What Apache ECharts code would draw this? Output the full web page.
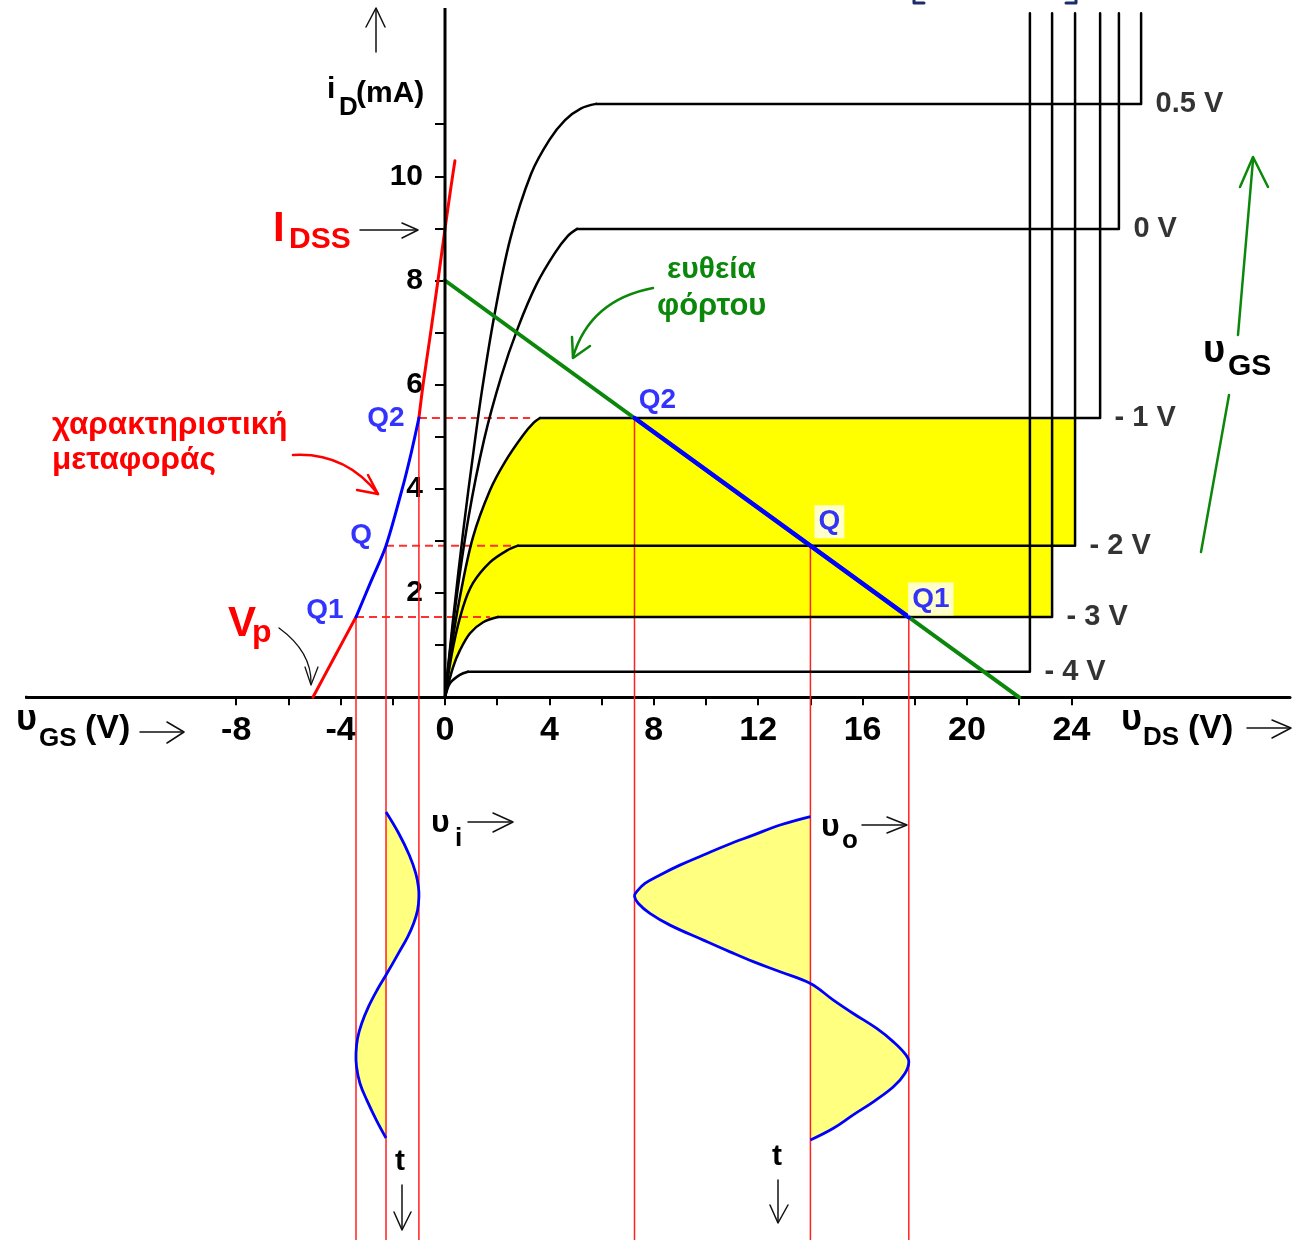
<!DOCTYPE html>
<html>
<head>
<meta charset="utf-8">
<title>JFET – χαρακτηριστικές και ευθεία φόρτου</title>
<script src="https://cdn.jsdelivr.net/npm/echarts@6/dist/echarts.min.js"></script>
<style>
  html, body { margin: 0; padding: 0; background: #ffffff; }
  #chart { width: 1293px; height: 1240px; }
</style>
</head>
<body>
<div id="chart"></div>
<script>
// ---- output characteristics iD(uDS), one curve per gate voltage ----
const gateLabels = ['0.5 V', '0 V', '- 1 V', '- 2 V', '- 3 V', '- 4 V'];
const riseGs05 = [[0,0],[0.3,1.45],[0.7,3.2],[1.1,4.75],[1.42,5.9],[1.88,7.3],[2.5,8.8],[3.3,10.05],[4.0,10.7],[4.6,11.08],[5.2,11.3],[5.79,11.39]];
const riseGs0  = [[0,0],[0.4,1.75],[0.9,3.45],[1.5,4.95],[2.15,6.15],[2.8,7.1],[3.5,7.92],[4.2,8.52],[4.7,8.85],[5.06,8.99]];
const riseGsM1 = [[0,0],[0.19,0.77],[0.57,1.92],[1.07,3.07],[1.72,3.97],[2.3,4.52],[2.99,5.03],[3.4,5.27],[3.64,5.36]];
const riseGsM2 = [[0,0],[0.31,0.96],[0.69,1.73],[1.07,2.19],[1.72,2.59],[2.38,2.82],[2.8,2.91]];
const riseGsM3 = [[0,0],[0.31,0.58],[0.57,0.90],[0.96,1.23],[1.46,1.44],[2.03,1.54]];
const riseGsM4 = [[0,0],[0.19,0.27],[0.57,0.43],[0.88,0.49]];
const saturation   = [11.39, 8.99, 5.36, 2.91, 1.54, 0.49];   // mA
const breakdownUds = [26.67, 25.82, 25.10, 24.14, 23.26, 22.41]; // V
const breakdownTop = 13.13;                                    // mA

// ---- transfer characteristic iD(uGS) ----
const transferCurve = [[-5.06,0],[-4.25,0.76],[-3.41,1.54],[-2.84,2.22],[-2.26,2.91],[-1.65,3.98],[-1.3,4.68],[-1.0,5.36],[-0.84,6.0],[-0.55,7.0],[-0.27,8.0],[0,8.99],[0.2,9.7],[0.38,10.3]];

// ---- load line and operating points ----
const loadLine  = [[0, 8], [22, 0]];
const qNames    = ['Q1', 'Q', 'Q2'];
const qUgs      = [-3.41, -2.26, -1.0];
const qId       = [1.54, 2.91, 5.36];
const qUds      = [17.77, 14.0, 7.26];
const dashEndUds = [1.72, 2.6, 3.26];

// ---- input / output signals (time in periods, downward) ----
const uiTime = [0,0.066,0.132,0.188,0.229,0.260,0.301,0.341,0.383,0.433,0.5,0.546,0.597,0.648,0.694,0.740,0.781,0.832,0.883,0.945,1.0];
const uiVolt = [-2.26,-1.77,-1.37,-1.12,-1.02,-1.0,-1.05,-1.20,-1.43,-1.78,-2.26,-2.60,-2.93,-3.19,-3.35,-3.41,-3.39,-3.26,-3.0,-2.63,-2.26];
const uoTime = [0.014,0.040,0.071,0.102,0.132,0.163,0.193,0.219,0.245,0.258,0.280,0.311,0.347,0.393,0.429,0.459,0.490,0.526,0.577,0.618,0.664,0.705,0.741,0.766,0.802,0.843,0.889,0.929,0.970,1.006];
const uoVolt = [14.0,12.84,11.81,10.79,9.90,9.00,8.24,7.66,7.34,7.26,7.40,7.85,8.62,9.90,10.92,11.81,12.84,14.0,14.88,15.64,16.54,17.18,17.62,17.77,17.62,17.18,16.41,15.64,14.88,14.0];

// ---- axis ticks ----
const udsLabelRange = [-8, 24];
const udsTicks  = [-8, -6, -4, -2, 0, 2, 4, 6, 8, 10, 12, 14, 16, 18, 20, 22, 24];
const idLabelRange = [2, 10];
const idTicks   = [1, 2, 3, 4, 5, 6, 7, 8, 9, 10, 11];
const idAxisTop = 13.23;

const riseCurves = [riseGs05, riseGs0, riseGsM1, riseGsM2, riseGsM3, riseGsM4];

const FONT = '"Liberation Sans", Arial, sans-serif';
const RED = '#ff0000', BLUE = '#0000ff', GREEN = '#0b880b', BLACK = '#000000';

// axis extents; the grid is sized so both axes cross at the origin
const X_MIN = -16, X_MAX = 32.375, X_LINE_START = -16.398;
const Y_MIN = -10, Y_MAX = 13, Y_BOTTOM = -10.42;
const T_MIN = -2.4294, T_MAX = 1.2463;
const GRID = { left: 27.4, right: 3, top: 20, bottom: 21.7 };
const PX_PER_V = 26.1, PX_PER_MA = 52.1;
// shift each axis from the grid edge to the other axis' zero
const X_AXIS_OFFSET = -(-Y_MIN * PX_PER_MA);   // bottom edge -> iD = 0
const Y_AXIS_OFFSET = -(-X_MIN * PX_PER_V);    // left edge   -> uDS = 0

function lineSeries(data, color, width, extra) {
  return Object.assign({
    type: 'line', data: data, xAxisIndex: 0, yAxisIndex: 0,
    symbol: 'none', silent: true, animation: false, clip: false, z: 4,
    lineStyle: { color: color, width: width, cap: 'round', join: 'round' }
  }, extra || {});
}

const series = [];

// yellow working region between the -1 V and -3 V characteristics
const region = [].concat(
  riseGsM3,
  [[breakdownUds[4], saturation[4]], [breakdownUds[4], saturation[3]],
   [breakdownUds[3], saturation[3]], [breakdownUds[3], saturation[2]]],
  riseGsM1.slice().reverse()
);
series.push({
  type: 'custom', xAxisIndex: 0, yAxisIndex: 0, data: [[0, 0]], silent: true, animation: false, z: 1,
  renderItem: function (p, api) {
    return { type: 'polygon', shape: { points: region.map(function (pt) { return api.coord(pt); }) },
             style: { fill: '#ffff00' } };
  }
});

// signal waveforms: yellow lobes, then the blue trace
function lobeIndex(volts) {
  for (let i = 1; i < volts.length - 1; i++) if (volts[i] === volts[0]) return i;
  return Math.floor(volts.length / 2);
}
function waveFill(times, volts) {
  const mid = lobeIndex(volts);
  return {
    type: 'custom', xAxisIndex: 0, yAxisIndex: 1, data: [[0, 0]], silent: true, animation: false, z: 2,
    renderItem: function (p, api) {
      const pts = times.map(function (t, i) { return api.coord([volts[i], t]); });
      const lobes = [pts.slice(0, mid + 1), pts.slice(mid)];
      return { type: 'group', children: lobes.map(function (lb) {
        return { type: 'polygon', shape: { points: lb, smooth: 0.4, smoothConstraint: [lb[0], lb[0]] },
                 style: { fill: '#ffff80' } };
      }) };
    }
  };
}
function waveLine(times, volts) {
  return {
    type: 'custom', xAxisIndex: 0, yAxisIndex: 1, data: [[0, 0]], silent: true, animation: false, z: 6,
    renderItem: function (p, api) {
      const pts = times.map(function (t, i) { return api.coord([volts[i], t]); });
      return { type: 'polyline', shape: { points: pts, smooth: 0.4 },
               style: { stroke: BLUE, lineWidth: 2.8, fill: null, lineJoin: 'round' } };
    }
  };
}
series.push(waveFill(uiTime, uiVolt), waveFill(uoTime, uoVolt));

// projection lines from the operating points
qNames.forEach(function (n, i) {
  series.push(lineSeries([[qUgs[i], qId[i]], [dashEndUds[i], qId[i]]], '#ff3030', 2,
    { z: 3, lineStyle: { color: '#ff3030', width: 2, type: [8, 5] } }));
  series.push(lineSeries([[qUgs[i], qId[i]], [qUgs[i], Y_BOTTOM]], '#ff2020', 1.5, { z: 3 }));
  series.push(lineSeries([[qUds[i], qId[i]], [qUds[i], Y_BOTTOM]], '#ff2020', 1.5, { z: 3 }));
});

// output characteristics
riseCurves.forEach(function (rise, i) {
  const knee = rise[rise.length - 1];
  series.push(lineSeries(rise, BLACK, 2.5, { smooth: 0.35 }));
  series.push(lineSeries([knee, [breakdownUds[i], saturation[i]], [breakdownUds[i], breakdownTop]], BLACK, 2.5));
});

// transfer characteristic: red outside Q1..Q2, blue between
const iQ1 = transferCurve.findIndex(function (p) { return p[0] === qUgs[0]; });
const iQ2 = transferCurve.findIndex(function (p) { return p[0] === qUgs[2]; });
series.push(lineSeries(transferCurve.slice(0, iQ1 + 1), RED, 3, { smooth: 0.3 }));
series.push(lineSeries(transferCurve.slice(iQ2), RED, 3, { smooth: 0.3 }));
series.push(lineSeries(transferCurve.slice(iQ1, iQ2 + 1), BLUE, 3, { smooth: 0.3, z: 5 }));

// load line and its swing between Q2 and Q1
series.push(lineSeries(loadLine, GREEN, 4));
series.push(lineSeries([[qUds[2], qId[2]], [qUds[0], qId[0]]], BLUE, 4.5, { z: 5 }));

// axis lines: iD (positive part only) and the left stub of the voltage axis
series.push(lineSeries([[0, 0], [0, idAxisTop]], BLACK, 3, { z: 6, lineStyle: { color: BLACK, width: 3 } }));
series.push(lineSeries([[X_LINE_START, 0], [X_MIN, 0]], BLACK, 3, { z: 6, lineStyle: { color: BLACK, width: 3 } }));

series.push(waveLine(uiTime, uiVolt), waveLine(uoTime, uoVolt));

// gate voltage labels at the end of each characteristic
series.push({
  type: 'scatter', xAxisIndex: 0, yAxisIndex: 0, silent: true, animation: false, z: 7,
  symbolSize: 1, itemStyle: { color: 'rgba(0,0,0,0)' },
  data: gateLabels.map(function (t, i) { return { name: t, value: [breakdownUds[i], saturation[i]] }; }),
  label: { show: true, position: 'right', distance: 14, formatter: '{b}',
           color: BLACK, fontSize: 29, fontWeight: 'bold', fontFamily: FONT }
});

// operating point names
const qLabelStyle = { show: true, position: 'inside', formatter: '{b}',
                      color: BLUE, fontSize: 28, fontWeight: 'bold', fontFamily: FONT };
const transferOffsets = [[-31, -7], [-25, -10], [-33, 0]];
const loadOffsets = [[22, -18], [19, -24], [23, -18]];
series.push({
  type: 'scatter', xAxisIndex: 0, yAxisIndex: 0, silent: true, animation: false, z: 7,
  symbolSize: 1, itemStyle: { color: 'rgba(0,0,0,0)' },
  data: qNames.map(function (n, i) {
    return { name: n, value: [qUgs[i], qId[i]],
             label: Object.assign({}, qLabelStyle, { offset: transferOffsets[i] }) };
  }).concat(qNames.map(function (n, i) {
    return { name: n, value: [qUds[i], qId[i]],
             label: Object.assign({}, qLabelStyle, { offset: loadOffsets[i],
               backgroundColor: i < 2 ? '#ffffff' : 'transparent', padding: [3, 4, 2, 4] }) };
  }))
});

// ---- annotation helpers ----
function txt(x, y, s, size, color, align) {
  const a = align || 'left';
  return { type: 'text', x: x, y: y, z: 100, silent: true,
           style: { text: s, fill: color || BLACK, font: 'bold ' + size + 'px ' + FONT,
                    align: a, verticalAlign: 'middle', textAlign: a, textVerticalAlign: 'middle' } };
}
function seg(x1, y1, x2, y2, color, w) {
  return { type: 'line', z: 100, silent: true, shape: { x1: x1, y1: y1, x2: x2, y2: y2 },
           style: { stroke: color, lineWidth: w, lineCap: 'round' } };
}
function head(pts, color, w) {
  return { type: 'polyline', z: 100, silent: true, shape: { points: pts },
           style: { stroke: color, lineWidth: w, fill: null, lineCap: 'round', lineJoin: 'round' } };
}
function curve(x1, y1, cx, cy, x2, y2, color, w) {
  return { type: 'bezierCurve', z: 100, silent: true,
           shape: { x1: x1, y1: y1, cpx1: cx, cpy1: cy, x2: x2, y2: y2 },
           style: { stroke: color, lineWidth: w, fill: null, lineCap: 'round' } };
}

const ARW = '#111111';
const graphics = [
  // iD axis name and arrow
  txt(327, 90, 'i', 30), txt(339, 108, 'D', 26), txt(356, 94, '(mA)', 30),
  seg(376, 52, 376, 9, ARW, 1.5), head([[366, 27], [376, 8], [385, 27]], ARW, 1.5),
  // IDSS
  txt(273, 229, 'I', 42, RED), txt(289, 240, 'DSS', 30, RED),
  seg(360, 230, 417, 230, ARW, 1.5), head([[402, 223], [418, 230], [402, 238]], ARW, 1.5),
  // transfer characteristic caption
  txt(52, 425, 'χαρακτηριστική', 31.5, RED), txt(52, 460, 'μεταφοράς', 31.5, RED),
  curve(293, 455, 345, 452, 378, 494, RED, 2.5), head([[357, 490], [378, 494], [368, 475]], RED, 2.5),
  // pinch-off voltage
  txt(228, 624, 'V', 42, RED), txt(252, 633, 'p', 32, RED),
  curve(279, 628, 312, 652, 311, 684, ARW, 1.3), head([[305, 667], [311, 685], [318, 667]], ARW, 1.3),
  // load line caption
  txt(667, 270, 'ευθεία', 30, GREEN), txt(657, 306, 'φόρτου', 31, GREEN),
  curve(653, 288, 590, 300, 573, 357, GREEN, 2.5), head([[572, 337], [573, 358], [590, 346]], GREEN, 2.5),
  // uGS direction
  txt(1203, 352, 'υ', 38), txt(1228, 367, 'GS', 30),
  seg(1201, 552, 1229, 395, GREEN, 2.5), seg(1238, 335, 1253, 160, GREEN, 2.5),
  head([[1240, 187], [1253, 157], [1268, 187]], GREEN, 2.5),
  // axis names
  txt(16, 720, 'υ', 36), txt(39, 739, 'GS', 26), txt(85, 729, '(V)', 34),
  seg(140, 732, 183, 732, ARW, 1.5), head([[167, 722], [184, 732], [167, 743]], ARW, 1.5),
  txt(1121, 720, 'υ', 36), txt(1143, 738, 'DS', 26), txt(1188, 729, '(V)', 34),
  seg(1247, 728, 1290, 728, ARW, 1.5), head([[1272, 720], [1291, 728], [1272, 738]], ARW, 1.5),
  // signal names
  txt(431, 823, 'υ', 32), txt(455, 839, 'i', 26),
  seg(468, 822, 512, 822, ARW, 1.5), head([[493, 813], [513, 822], [493, 832]], ARW, 1.5),
  txt(821, 827, 'υ', 32), txt(842, 841, 'o', 26),
  seg(862, 825, 906, 825, ARW, 1.5), head([[887, 817], [907, 825], [887, 833]], ARW, 1.5),
  txt(400, 1162, 't', 30, BLACK, 'center'),
  seg(402, 1185, 402, 1229, ARW, 1.5), head([[394, 1212], [402, 1230], [411, 1212]], ARW, 1.5),
  txt(777, 1157, 't', 30, BLACK, 'center'),
  seg(778, 1180, 778, 1222, ARW, 1.5), head([[770, 1205], [778, 1223], [788, 1205]], ARW, 1.5),
  // edge of the heading above
  head([[914, 0], [914, 3], [924, 3]], '#1c2b6b', 3),
  head([[1066, 3], [1076, 3], [1076, 0]], '#1c2b6b', 3)
];

const chart = echarts.init(document.getElementById('chart'), null, { renderer: 'canvas' });
chart.setOption({
  animation: false,
  backgroundColor: '#ffffff',
  grid: Object.assign({ containLabel: false, outerBoundsMode: 'none' }, GRID),
  xAxis: [{
    type: 'value', min: X_MIN, max: X_MAX, interval: 4, position: 'bottom', offset: X_AXIS_OFFSET,
    axisLine: { show: true, onZero: false, lineStyle: { color: BLACK, width: 3 } },
    axisTick: { show: true, customValues: udsTicks, length: 8, lineStyle: { color: BLACK, width: 2 } },
    axisLabel: {
      show: true, margin: 16, color: BLACK, fontSize: 34, fontWeight: 'bold', fontFamily: FONT,
      showMinLabel: true, showMaxLabel: true, hideOverlap: false,
      formatter: function (v) { return (v >= udsLabelRange[0] && v <= udsLabelRange[1]) ? String(v) : ''; }
    },
    splitLine: { show: false }
  }],
  yAxis: [{
    type: 'value', min: Y_MIN, max: Y_MAX, interval: 2, position: 'left', offset: Y_AXIS_OFFSET,
    axisLine: { show: true, onZero: false, lineStyle: { color: 'rgba(0,0,0,0)', width: 0 } },
    axisTick: { show: true, customValues: idTicks, length: 10, lineStyle: { color: BLACK, width: 2 } },
    axisLabel: {
      show: true, margin: 22, color: BLACK, fontSize: 30, fontWeight: 'bold', fontFamily: FONT,
      showMinLabel: true, showMaxLabel: true, hideOverlap: false,
      formatter: function (v) { return (v >= idLabelRange[0] && v <= idLabelRange[1]) ? String(v) : ''; }
    },
    splitLine: { show: false }
  }, {
    type: 'value', min: T_MIN, max: T_MAX, inverse: true, show: false,
    axisLine: { onZero: false }, splitLine: { show: false }
  }],
  series: series,
  graphic: { elements: graphics }
});
</script>
</body>
</html>
